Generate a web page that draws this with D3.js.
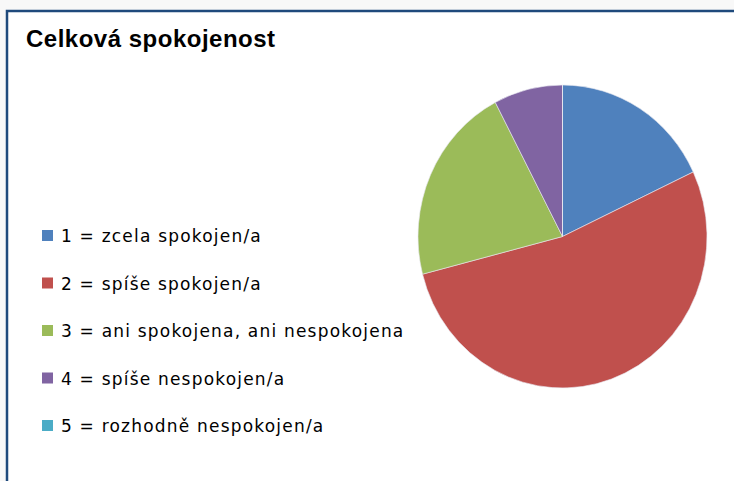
<!DOCTYPE html>
<html>
<head>
<meta charset="utf-8">
<script src="https://cdn.jsdelivr.net/npm/d3@7"></script>
<style>
  body { margin: 0; background: #f8f8f8; }
  svg { display: block; }
</style>
</head>
<body>
<div id="chart"></div>
<script>
const WIDTH = 734;
const HEIGHT = 481;

const title = "Celková spokojenost";
const categories = [
    "1 = zcela spokojen/a",
    "2 = spíše spokojen/a",
    "3 = ani spokojena, ani nespokojena",
    "4 = spíše nespokojen/a",
    "5 = rozhodně nespokojen/a"
];
const shares = [18.0, 53.0, 21.3, 7.7, 0];
const colors = ["#4f81bd", "#c0504d", "#9bbb59", "#8064a2", "#4bacc6"];

const CX = 562.5, CY = 236.5, RX = 144.5, RY = 151.5;

const svg = d3.select("#chart")
    .append("svg")
    .attr("width", WIDTH)
    .attr("height", HEIGHT);

// chart frame (runs off right and bottom edges)
svg.append("rect")
    .attr("x", 7)
    .attr("y", 11)
    .attr("width", WIDTH + 20)
    .attr("height", HEIGHT + 20)
    .attr("fill", "#fff")
    .attr("stroke", "#1f4a7c")
    .attr("stroke-width", 2.5);

svg.append("text")
    .attr("x", 26)
    .attr("y", 47)
    .attr("font-family", "Liberation Sans, Arial, sans-serif")
    .attr("font-weight", "bold")
    .attr("font-size", 24)
    .attr("letter-spacing", 0.5)
    .attr("fill", "#000")
    .text(title);

const rows = categories.map((name, i) => ({ name, value: shares[i], color: colors[i] }));

const pie = d3.pie().sort(null).value(d => d.value);
const arc = d3.arc().innerRadius(0).outerRadius(RX);

svg.append("g")
    .attr("transform", `translate(${CX},${CY}) scale(1,${RY / RX})`)
    .selectAll("path")
    .data(pie(rows))
    .enter()
    .append("path")
    .attr("d", arc)
    .attr("fill", d => d.data.color)
    .attr("stroke", "#e8e8f0")
    .attr("stroke-width", 0.6);

const legendY = d3.scalePoint()
    .domain(categories)
    .range([236, 426]);

const legend = svg.append("g")
    .selectAll("g")
    .data(rows)
    .enter()
    .append("g")
    .attr("transform", d => `translate(0,${legendY(d.name)})`);

legend.append("rect")
    .attr("x", 42)
    .attr("y", -6)
    .attr("width", 11)
    .attr("height", 11)
    .attr("fill", d => d.color);

legend.append("text")
    .attr("x", 61)
    .attr("y", 0)
    .attr("dy", "0.36em")
    .attr("font-family", "DejaVu Sans, Verdana, sans-serif")
    .attr("font-size", 17)
    .attr("letter-spacing", 1.2)
    .attr("fill", "#000")
    .text(d => d.name);
</script>
</body>
</html>
